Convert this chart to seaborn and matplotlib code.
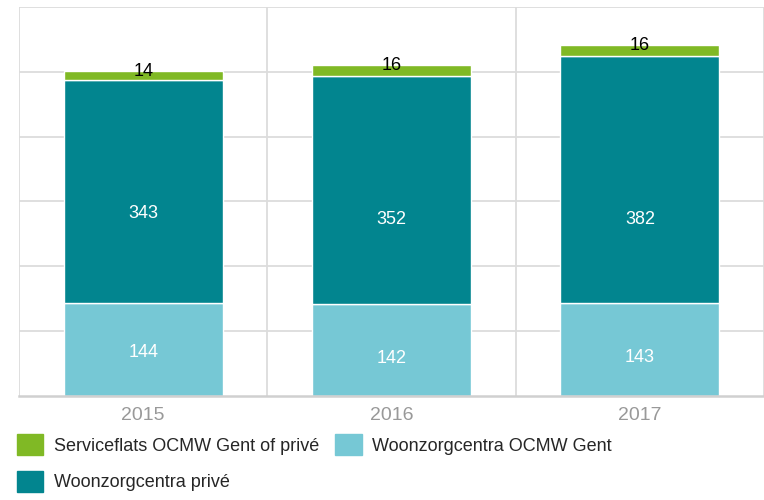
import matplotlib
matplotlib.use("Agg")
import matplotlib.pyplot as plt
import seaborn as sns
import pandas as pd
from matplotlib.patches import Patch

# data
years = ["2015", "2016", "2017"]
ocmw_wzc = [144, 142, 143]
prive_wzc = [343, 352, 382]
serviceflats = [14, 16, 16]

labels = ["Serviceflats OCMW Gent of privé", "Woonzorgcentra privé", "Woonzorgcentra OCMW Gent"]
clr_green = "#80b925"
clr_teal = "#02858f"
clr_light = "#76c8d5"
grid_clr = "#dcdcdc"

# where the labels sit inside the segments (fraction of segment height)
lab_pos_bottom = [0.47, 0.41, 0.42]
lab_pos_mid = [0.40, 0.37, 0.34]

sns.set_style("white")
plt.rcParams['font.family'] = ['Liberation Sans', 'DejaVu Sans']

df = pd.DataFrame({"year": years, "ocmw": ocmw_wzc, "prive": prive_wzc, "sf": serviceflats})
df["b2"] = df["ocmw"]
df["b3"] = df["ocmw"] + df["prive"]

fig = plt.figure(figsize=(7.64, 5), dpi=100)
ax = fig.add_axes([0.025, 0.208, 0.975, 0.778])

W = 0.64
sns.barplot(data=df, x="year", y="ocmw", color=clr_light, width=W, ax=ax, saturation=1)
sns.barplot(data=df, x="year", y="prive", bottom=df["b2"], color=clr_teal, width=W, ax=ax, saturation=1)
sns.barplot(data=df, x="year", y="sf", bottom=df["b3"], color=clr_green, width=W, ax=ax, saturation=1)

for i in range(len(years)):
    ax.text(i, ocmw_wzc[i] * lab_pos_bottom[i], str(ocmw_wzc[i]), color="white", ha="center", va="center", fontsize=13)
    ax.text(i, ocmw_wzc[i] + prive_wzc[i] * lab_pos_mid[i], str(prive_wzc[i]), color="white", ha="center", va="center", fontsize=13)
    total = ocmw_wzc[i] + prive_wzc[i] + serviceflats[i]
    ax.text(i, total, str(serviceflats[i]), color="black", ha="center", va="center", fontsize=13)

ax.set_ylim(0, 600)
ax.set_xlim(-0.5, 2.5)
for y in range(100, 601, 100):
    ax.axhline(y, color=grid_clr, linewidth=1.3, zorder=0)
for x in [-0.5, 0.5, 1.5, 2.5]:
    ax.axvline(x, color=grid_clr, linewidth=1.3, zorder=0)

for s in ["top", "right", "left"]:
    ax.spines[s].set_visible(False)
ax.spines["bottom"].set_color("#d0d0d0")
ax.spines["bottom"].set_linewidth(1.8)
ax.set_yticks([])
ax.set_xlabel("")
ax.set_ylabel("")
ax.tick_params(axis="x", length=0, labelsize=14, labelcolor="#999999", pad=8)

handles = [Patch(color=clr_green), Patch(color=clr_teal), Patch(color=clr_light)]
fig.legend(handles, labels, loc="upper left", bbox_to_anchor=(0.022, 0.132), ncol=2,
           frameon=False, fontsize=13, handlelength=1.45, handleheight=1.45,
           handletextpad=0.6, labelspacing=0.85, columnspacing=0.9, borderaxespad=0, borderpad=0)

plt.savefig("out.png", dpi=100)
